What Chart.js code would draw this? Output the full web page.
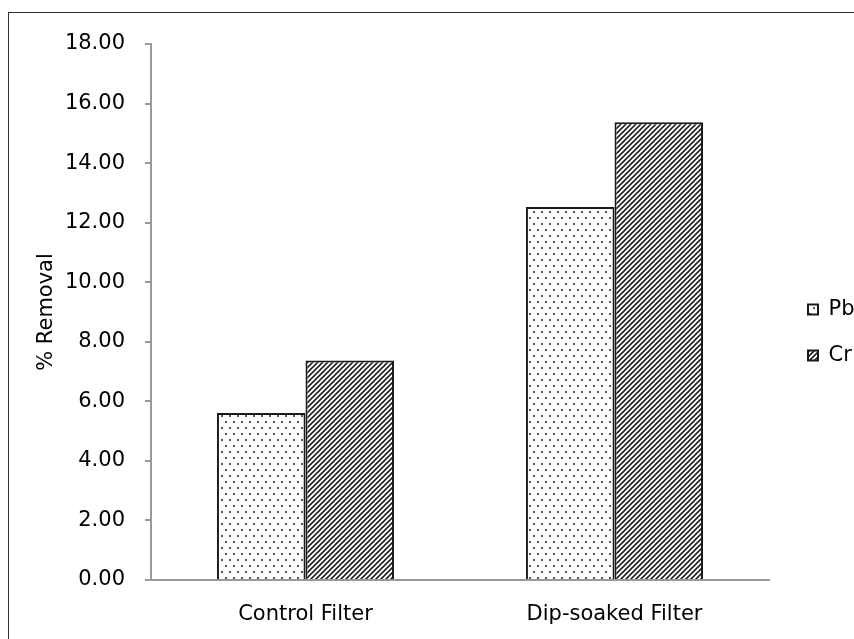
<!DOCTYPE html>
<html>
<head>
<meta charset="utf-8">
<title>% Removal</title>
<script src="https://cdn.jsdelivr.net/npm/chart.js@4.4.1/dist/chart.umd.min.js"></script>
<style>
  html, body { margin: 0; padding: 0; background: #fff; overflow: hidden; }
  #wrap { position: relative; width: 854px; height: 639px; }
  #frame { position: absolute; left: 8px; top: 12px; width: 1000px; height: 1000px; border: 1.5px solid #333; box-sizing: border-box; pointer-events: none; }
  canvas { position: absolute; left: 0; top: 0; }
</style>
</head>
<body>
<div id="wrap">
  <canvas id="removalChart" width="854" height="639"></canvas>
  <div id="frame"></div>
</div>
<script>
const categories = ['Control Filter', 'Dip-soaked Filter'];
const pbValues = [5.61, 12.53];
const crValues = [7.37, 15.37];
const seriesNames = ['Pb', 'Cr'];
const yTicks = [0, 2, 4, 6, 8, 10, 12, 14, 16, 18];

const FONT = 'DejaVu Sans, Verdana, sans-serif';

// dotted fill for Pb
const makeDots = () => {
  const c = document.createElement('canvas');
  c.width = 8; c.height = 12;
  const g = c.getContext('2d');
  g.fillStyle = '#fff';
  g.fillRect(0, 0, 8, 12);
  g.fillStyle = '#555';
  g.fillRect(1, 1, 2, 2);
  g.fillRect(5, 7, 2, 2);
  return g.createPattern(c, 'repeat');
};

// diagonal hatch for Cr
const makeHatch = () => {
  const c = document.createElement('canvas');
  c.width = 5; c.height = 5;
  const g = c.getContext('2d');
  g.fillStyle = '#fff';
  g.fillRect(0, 0, 5, 5);
  g.strokeStyle = '#222';
  g.lineWidth = 1.6;
  g.beginPath();
  g.moveTo(-1, 6); g.lineTo(6, -1);
  g.moveTo(-1, 1); g.lineTo(1, -1);
  g.moveTo(4, 6); g.lineTo(6, 4);
  g.stroke();
  return g.createPattern(c, 'repeat');
};

// keep legend strip 85px wide and place it like the original (text runs off the right edge)
const legendPlace = {
  id: 'legendPlace',
  beforeInit(chart) {
    const lg = chart.legend;
    const fit = lg.fit.bind(lg);
    lg.fit = function () { fit(); this.width = 85; };
  },
  afterLayout(chart) {
    const lg = chart.legend;
    lg.left += 14; lg.right += 14;
    lg.top -= 9; lg.bottom -= 9;
  }
};

const ctx = document.getElementById('removalChart').getContext('2d');
new Chart(ctx, {
  type: 'bar',
  data: {
    labels: categories,
    datasets: [
      { label: seriesNames[0], data: pbValues, backgroundColor: makeDots(), borderColor: '#1a1a1a', borderWidth: 2 },
      { label: seriesNames[1], data: crValues, backgroundColor: makeHatch(), borderColor: '#1a1a1a', borderWidth: 2 }
    ]
  },
  plugins: [legendPlace],
  options: {
    responsive: false,
    animation: false,
    devicePixelRatio: 1,
    layout: { padding: { top: 44, left: 0, right: 0, bottom: 0 } },
    datasets: { bar: { categoryPercentage: 0.573, barPercentage: 1.0 } },
    plugins: {
      tooltip: { enabled: false },
      legend: {
        position: 'right',
        labels: {
          boxWidth: 10, boxHeight: 10, padding: 25,
          color: '#000',
          font: { family: FONT, size: 21 }
        }
      }
    },
    scales: {
      x: {
        grid: { display: false },
        border: { display: true, color: '#999', width: 2 },
        ticks: { color: '#000', padding: 14, font: { family: FONT, size: 21 } },
        afterFit: s => { s.height = 59; }
      },
      y: {
        min: 0, max: 18,
        afterBuildTicks: s => { s.ticks = yTicks.map(v => ({ value: v })); },
        grid: { drawOnChartArea: false, drawTicks: true, tickLength: 6, color: '#999', lineWidth: 2 },
        border: { display: true, color: '#999', width: 2 },
        ticks: { color: '#000', padding: 20, font: { family: FONT, size: 21 }, callback: v => v.toFixed(2) },
        title: { display: true, text: '% Removal', color: '#000', padding: { top: 34, bottom: 0 }, font: { family: FONT, size: 21 } },
        afterFit: s => { s.width = 151; }
      }
    }
  }
});
</script>
</body>
</html>
